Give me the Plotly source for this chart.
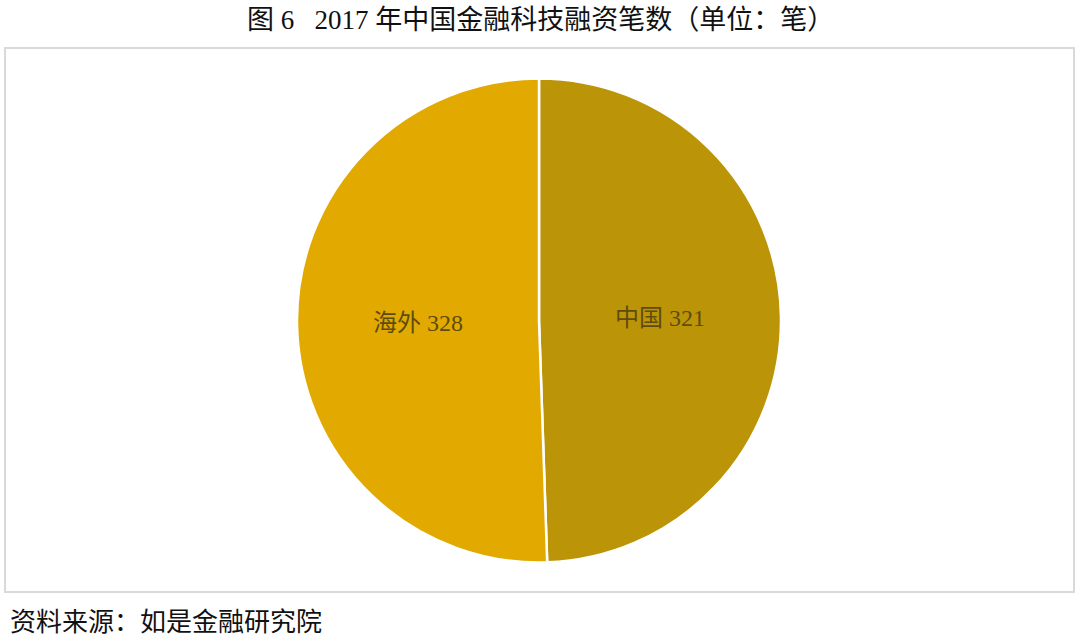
import plotly.graph_objects as go

# 2017 fintech financing deal counts
labels = ['中国', '海外']
values = [321, 328]
colors = ['#BC9408', '#E2AA00']

font_family = 'Liberation Serif, Noto Sans CJK SC, serif'

fig = go.Figure()
fig.add_trace(go.Pie(
    labels=labels,
    values=values,
    sort=False,
    direction='clockwise',
    rotation=0,
    marker=dict(colors=colors, line=dict(color='white', width=2.5)),
    texttemplate='%{label} %{value}',
    textposition='inside',
    insidetextorientation='horizontal',
    textfont=dict(family=font_family, size=24, color='#5E4C0E'),
    hoverinfo='label+value',
    showlegend=False,
    domain=dict(x=[297/1080, 781/1080], y=[1-563/643, 1-78/643]),
))

# chart area frame
fig.add_shape(type='rect', xref='paper', yref='paper',
              x0=5/1080, x1=1074/1080, y0=1-592/643, y1=1-48/643,
              line=dict(color='#D9D9D9', width=2), fillcolor='rgba(0,0,0,0)',
              layer='below')

fig.add_annotation(text='图 6 \u00a0 2017 年中国金融科技融资笔数（单位：笔）',
                   xref='paper', yref='paper', x=0.5, y=1-20/643,
                   showarrow=False, xanchor='center', yanchor='middle',
                   font=dict(family=font_family, size=27, color='#111111'))
fig.add_annotation(text='资料来源：如是金融研究院',
                   xref='paper', yref='paper', x=8/1080, y=1-622/643,
                   showarrow=False, xanchor='left', yanchor='middle',
                   font=dict(family=font_family, size=26, color='#111111'))

fig.update_layout(
    width=1080, height=643,
    margin=dict(l=0, r=0, t=0, b=0),
    paper_bgcolor='white',
    plot_bgcolor='white',
)

# drop the default page margin so the figure sits flush in the window
fig.write_html('out.html', config={'displayModeBar': False},
               post_script="document.body.style.margin='0';")
